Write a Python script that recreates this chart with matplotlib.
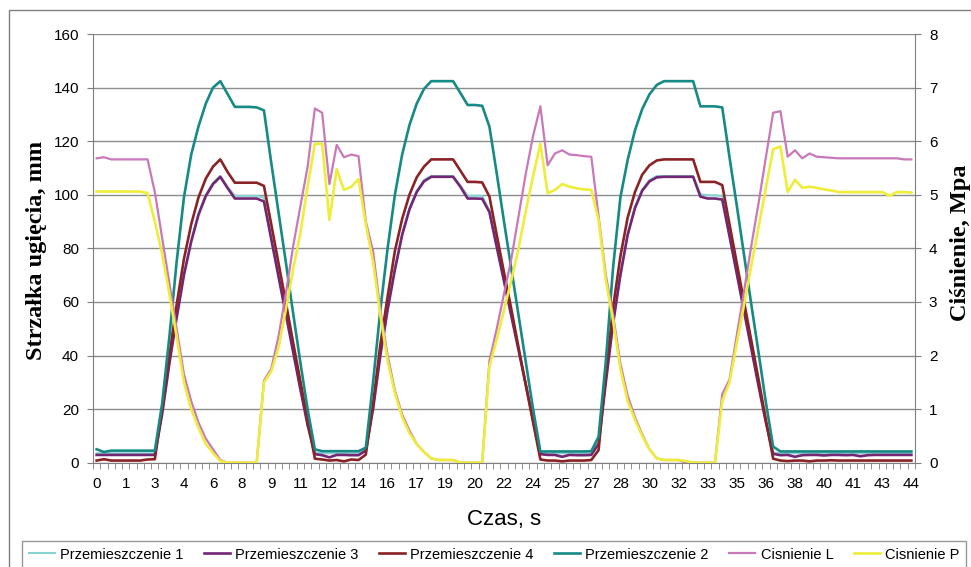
import matplotlib
matplotlib.use("Agg")
import matplotlib.pyplot as plt
import numpy as np
from matplotlib.patches import Rectangle

# time labels printed under every 4th sample (sampling step 0.4 s)
tick_labels = ["0", "1", "3", "4", "6", "8", "9", "11", "12", "14", "16", "17", "19", "20", "22",
               "24", "25", "27", "28", "30", "32", "33", "35", "36", "38", "40", "41", "43", "44"]

# displacements, mm (left axis)
przem_1 = [3.5, 3.5, 3.5, 3.5, 3.5, 3.5, 3.5, 3.5, 3.5, 18.5,
           37.5, 54.5, 70.5, 83, 93, 100, 104.5, 107, 103, 99.6,
           99.6, 99.6, 99.6, 99, 84, 70, 56, 42, 28, 14.5,
           3.8, 3.5, 3.5, 3.5, 3.5, 3.5, 3.5, 5, 20.5, 40.5,
           57.5, 72.5, 85.5, 95, 101.5, 105.5, 107, 107, 107, 107,
           103.5, 99.6, 99.6, 99.6, 94, 81, 68, 55, 42.5, 29.5,
           16.5, 3.8, 3.5, 3.5, 3.5, 3.5, 3.5, 3.5, 3.5, 7.5,
           30.5, 52.5, 70.5, 85.5, 95.5, 102, 105.5, 107, 107, 107,
           107, 107, 107, 100.2, 99.8, 99.8, 99.5, 85, 71, 57,
           43, 29, 15.5, 3.8, 3.5, 3.5, 3.5, 3.5, 3.5, 3.5,
           3.5, 3.5, 3.5, 3.5, 3.5, 3.5, 3.5, 3.5, 3.5, 3.5,
           3.5, 3.5, 3.5]

przem_3 = [2.9, 2.9, 2.9, 2.9, 2.9, 2.9, 2.9, 2.9, 2.9, 18,
           37, 54, 70, 82.5, 92.5, 99.5, 104, 106.7, 102.5, 98.6,
           98.6, 98.6, 98.6, 97.5, 83.5, 69.5, 55.5, 41.5, 27.5, 14,
           3.2, 2.8, 2.0, 2.9, 2.9, 2.8, 2.8, 4.5, 20, 40,
           57, 72, 85, 94.5, 101, 105, 106.7, 106.7, 106.7, 106.7,
           103, 98.6, 98.6, 98.5, 93.5, 80.5, 67.7, 54.8, 42, 29,
           16, 3.2, 2.9, 2.9, 2.2, 2.9, 2.8, 2.8, 2.9, 7,
           30, 52, 70, 85, 95, 101.5, 105, 106.5, 106.7, 106.7,
           106.7, 106.7, 106.7, 99.3, 98.6, 98.6, 98.2, 84.5, 70.5, 56.5,
           42.5, 28.5, 15, 3.3, 2.8, 2.9, 2.2, 2.8, 2.9, 2.9,
           2.7, 2.9, 2.9, 2.8, 2.9, 2.4, 2.8, 2.9, 2.9, 2.9,
           2.9, 2.9, 2.9]

przem_4 = [0.8, 1.3, 0.8, 0.8, 0.8, 0.8, 0.8, 1.2, 1.3, 20,
           40, 59, 76, 89, 99, 106, 110.5, 113.2, 108.5, 104.5,
           104.5, 104.5, 104.5, 103.3, 89, 74.5, 60, 45, 30.5, 16,
           1.5, 1.2, 0.8, 1.0, 0.5, 1.2, 1.0, 3, 22, 44,
           62, 79, 91, 100, 106.5, 110.5, 113.2, 113.2, 113.2, 113.2,
           109, 104.8, 104.8, 104.6, 99.3, 85, 71, 57.4, 43, 29,
           15, 1.2, 0.8, 0.8, 0.5, 0.8, 0.8, 0.8, 1.0, 4.7,
           33, 58, 77, 91.5, 101, 107.5, 111, 112.8, 113.2, 113.2,
           113.2, 113.2, 113.2, 104.8, 104.8, 104.8, 103.6, 89, 74.5, 60,
           45.5, 31, 16, 1.5, 0.8, 0.6, 0.8, 0.8, 0.5, 0.8,
           0.8, 0.9, 0.8, 0.8, 0.8, 0.8, 0.8, 0.8, 0.8, 0.8,
           0.8, 0.8, 0.8]

przem_2 = [5.0, 4.0, 4.5, 4.5, 4.5, 4.5, 4.5, 4.5, 4.5, 22,
           47, 75, 99, 115, 125.5, 134, 140, 142.4, 137.6, 132.8,
           132.8, 132.8, 132.6, 131.5, 112, 93.5, 75, 56, 37.5, 20,
           5, 4.3, 4.3, 4.3, 4.3, 4.3, 4.3, 5.6, 30, 57,
           80, 100, 115, 126, 134, 139.5, 142.4, 142.4, 142.4, 142.4,
           138, 133.5, 133.5, 133.2, 125.4, 108, 90, 72.5, 55, 37.5,
           20, 4.2, 4.2, 4.2, 4.2, 4.2, 4.2, 4.2, 4.3, 9.7,
           38, 73, 99, 113, 124, 132, 137.5, 141, 142.4, 142.4,
           142.4, 142.4, 142.4, 133, 133, 133, 132.6, 114, 96, 77.5,
           59, 41, 22.5, 6, 4.2, 4.2, 4.2, 4.2, 4.2, 4.2,
           4.2, 4.2, 4.2, 4.2, 4.2, 4.2, 4.2, 4.2, 4.2, 4.2,
           4.2, 4.2, 4.2]

# pressures, MPa (right axis)
cisn_L = [5.68, 5.70, 5.66, 5.66, 5.66, 5.66, 5.66, 5.66, 5.05, 4.2,
          3.35, 2.5, 1.65, 1.15, 0.75, 0.45, 0.25, 0.05, 0, 0,
          0, 0, 0, 1.53, 1.75, 2.35, 3.15, 4.03, 4.78, 5.52,
          6.61, 6.53, 5.2, 5.93, 5.7, 5.75, 5.72, 4.5, 3.95, 2.85,
          2.0, 1.35, 0.9, 0.6, 0.35, 0.2, 0.08, 0.05, 0.05, 0.05,
          0, 0, 0, 0, 1.9, 2.5, 3.15, 3.8, 4.6, 5.4,
          6.1, 6.65, 5.55, 5.77, 5.83, 5.75, 5.74, 5.72, 5.71, 4.6,
          3.5, 2.75, 1.85, 1.25, 0.85, 0.53, 0.25, 0.08, 0.05, 0.05,
          0.05, 0, 0, 0, 0, 0, 1.28, 1.55, 2.38, 3.2,
          4.05, 4.85, 5.7, 6.53, 6.56, 5.71, 5.83, 5.68, 5.77, 5.71,
          5.70, 5.69, 5.68, 5.68, 5.68, 5.68, 5.68, 5.68, 5.68, 5.68,
          5.68, 5.66, 5.66]

cisn_P = [5.06, 5.06, 5.06, 5.06, 5.06, 5.06, 5.06, 5.03, 4.5, 3.9,
          3.15, 2.35, 1.5, 1.0, 0.65, 0.35, 0.18, 0.03, 0, 0,
          0, 0, 0, 1.5, 1.7, 2.15, 2.85, 3.6, 4.28, 5.15,
          5.95, 5.95, 4.53, 5.48, 5.09, 5.15, 5.29, 4.45, 3.75, 2.75,
          1.9, 1.3, 0.85, 0.55, 0.35, 0.2, 0.08, 0.05, 0.05, 0.05,
          0, 0, 0, 0, 1.8, 2.3, 2.85, 3.4, 4.0, 4.7,
          5.35, 5.95, 5.03, 5.09, 5.2, 5.15, 5.12, 5.1, 5.09, 4.53,
          3.4, 2.65, 1.75, 1.15, 0.8, 0.5, 0.25, 0.08, 0.05, 0.05,
          0.05, 0.03, 0, 0, 0, 0, 1.15, 1.5, 2.23, 2.95,
          3.68, 4.4, 5.13, 5.85, 5.9, 5.05, 5.28, 5.13, 5.15, 5.13,
          5.1, 5.08, 5.05, 5.05, 5.05, 5.05, 5.05, 5.05, 5.05, 4.98,
          5.05, 5.05, 5.04]

n = len(przem_2)
x = np.arange(n)

W, H = 971, 567
fig = plt.figure(figsize=(W / 100, H / 100), dpi=100)
plt.rcParams['font.family'] = ['Liberation Sans', 'DejaVu Sans']

# chart area border (right/bottom edges fall outside the picture)
fig.patches.append(Rectangle((9 / W, -0.1), 1.2, 1 - 10 / H + 0.1, transform=fig.transFigure,
                             fill=False, edgecolor='#7f7f7f', lw=1.0))

left, right, top, bottom = 93, 915, 34, 462.7
ax = fig.add_axes([left / W, 1 - bottom / H, (right - left) / W, (bottom - top) / H])
ax2 = ax.twinx()

grey = '#7f7f7f'
ax.plot(x, przem_1, color='#86d3d0', lw=1.5, label='Przemieszczenie 1')
ax.plot(x, przem_3, color='#732673', lw=1.9, label='Przemieszczenie 3')
ax.plot(x, przem_4, color='#8a2325', lw=1.9, label='Przemieszczenie 4')
ax.plot(x, przem_2, color='#168a84', lw=1.9, label='Przemieszczenie 2')
ax2.plot(x, cisn_L, color='#c978b9', lw=1.6, label='Cisnienie L')
ax2.plot(x, cisn_P, color='#eded3a', lw=1.9, label='Cisnienie P')

ax.set_xlim(-0.5, n - 0.5)
ax.set_ylim(0, 160)
ax2.set_ylim(0, 8)
ax.set_yticks(np.arange(0, 161, 20))
ax2.set_yticks(np.arange(0, 9, 1))

ax.set_xticks(x[::4])
ax.set_xticklabels(tick_labels)
ax.set_xticks(np.arange(-0.5, n, 1), minor=True)
ax.tick_params(axis='x', which='major', length=0, pad=10, labelsize=11)
ax.tick_params(axis='x', which='minor', length=4, color=grey, direction='out')
ax.tick_params(axis='y', length=4, color=grey, pad=6, labelsize=11)
ax2.tick_params(axis='y', length=4, color=grey, pad=6, labelsize=11)

ax.yaxis.grid(True, color='#8c8c8c', lw=1.0)
ax.set_axisbelow(True)
for s in ['top', 'right']:
    ax.spines[s].set_visible(False)
for s in ['top', 'left', 'bottom']:
    ax2.spines[s].set_visible(False)
ax.spines['left'].set_color(grey)
ax.spines['bottom'].set_color(grey)
ax2.spines['right'].set_color(grey)

fig.text(37 / W, 1 - 250 / H, 'Strzałka ugięcia, mm', rotation=90, ha='center', va='center',
         family=['Liberation Serif', 'DejaVu Serif'], fontweight='bold', fontsize=17.5)
fig.text(960 / W, 1 - 243 / H, 'Ciśnienie, Mpa', rotation=90, ha='center', va='center',
         family=['Liberation Serif', 'DejaVu Serif'], fontweight='bold', fontsize=17.5)
fig.text((left + right) / 2 / W, 1 - 519 / H, 'Czas, s', ha='center', va='center', fontsize=16)

h1, l1 = ax.get_legend_handles_labels()
h2, l2 = ax2.get_legend_handles_labels()
leg = fig.legend(h1 + h2, l1 + l2, loc='upper left', ncol=6, mode='expand',
                 bbox_to_anchor=(22 / W, 1 - 573 / H, 944 / W, 32 / H), bbox_transform=fig.transFigure,
                 borderaxespad=0, fontsize=10.5, frameon=True, fancybox=False,
                 handlelength=1.8, handletextpad=0.35, columnspacing=0.6, borderpad=0.45)
leg.get_frame().set_edgecolor(grey)
leg.get_frame().set_linewidth(1.0)

fig.savefig('out.png', dpi=100)
